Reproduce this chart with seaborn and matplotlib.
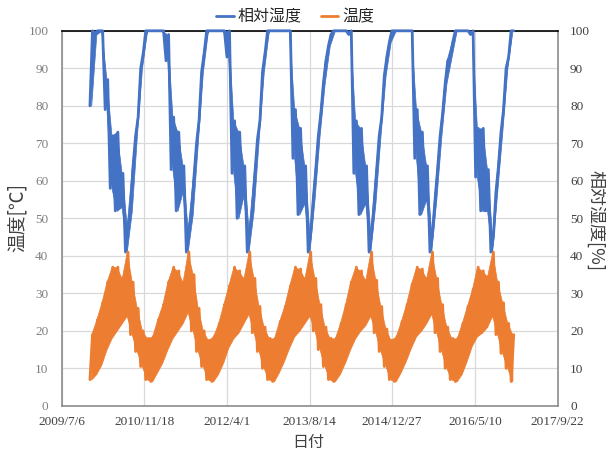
import numpy as np
import pandas as pd
import seaborn as sns
import matplotlib.pyplot as plt
from matplotlib.ticker import FuncFormatter, MultipleLocator
from matplotlib.lines import Line2D
import matplotlib.dates as mdates

# monthly envelope (min / max of the daily trace), Jan..Dec, 2010-2016
rh_lo = [80, 99, 100, 79, 58, 52, 53, 41, 52, 72, 90, 100,
         100, 100, 100, 92, 63, 52, 57, 41, 51, 70, 89, 100,
         100, 100, 100, 93, 62, 50, 56, 41, 52, 71, 89, 100,
         100, 100, 100, 100, 66, 51, 54, 41, 55, 72, 86, 96,
         100, 100, 100, 99, 62, 51, 54, 41, 54, 72, 88, 97,
         100, 100, 100, 100, 66, 51, 55, 41, 55, 72, 86, 93,
         100, 100, 100, 99, 61, 52, 52, 41, 57, 73, 90, 100]
rh_hi = [100, 100, 100, 87, 72, 73, 62, 48, 64, 77, 94, 100,
         100, 100, 100, 99, 77, 73, 64, 47, 61, 76, 94, 100,
         100, 100, 100, 100, 76, 73, 64, 47, 62, 76, 94, 100,
         100, 100, 100, 100, 79, 74, 64, 46, 63, 78, 92, 99,
         100, 100, 100, 100, 76, 74, 64, 46, 63, 77, 93, 100,
         100, 100, 100, 100, 79, 73, 64, 46, 63, 78, 92, 97,
         100, 100, 100, 100, 74, 74, 63, 45, 64, 79, 93, 100]
temp_lo = [7, 8.5, 11, 15, 18, 20, 22, 24, 19, 14.5, 10.5, 7,
           6.5, 9, 11.5, 15, 18, 20, 22, 25, 20, 14.5, 10.5, 7,
           6.5, 8.5, 11.5, 15.5, 18, 19.5, 22, 24.5, 19.5, 14.5, 10, 7,
           6.5, 9, 12, 15.5, 18.5, 20, 22, 24, 20, 15, 10.5, 7,
           6.5, 8.5, 11.5, 15, 18, 20, 21.5, 24, 19.5, 14.5, 10.5, 7,
           6.5, 9, 12, 15.5, 18.5, 20, 22, 24.5, 19.5, 14.5, 10, 7,
           6.5, 8.5, 12, 16, 18.5, 19.5, 21, 24, 19, 14, 10, 6.5]
temp_hi = [19, 23, 27.5, 33, 37, 37, 34, 41, 33, 26, 20, 18,
           18.5, 23, 27, 33, 37, 36, 33, 41, 35, 26, 20, 17.5,
           18.5, 22, 27, 32, 37, 36, 34, 41, 34, 26.5, 21, 18,
           18, 22.5, 26.5, 32, 37, 36.5, 34, 41, 34, 27, 21, 18,
           18, 22, 27, 33, 37, 36, 33.5, 41, 33.5, 26.5, 20.5, 17.5,
           18.5, 22.5, 27, 32.5, 37, 36.5, 34, 41, 34, 27, 21, 18,
           18, 22, 26.5, 31, 37, 36, 34.5, 41, 33, 27.5, 22, 19]

series_names = ["相対湿度", "温度"]
x_ticks = mdates.date2num(pd.date_range("2009-07-06", periods=7, freq="500D").to_pydatetime())

blue = "#4472C4"
orange = "#ED7D31"
cjk = "Noto Sans CJK JP"

sns.set_theme(style="white")
plt.rcParams["font.family"] = ["Liberation Serif", cjk]

# each month: one point at its low, one at its high -> jagged trace
pts = mdates.date2num(pd.date_range("2009-12-25", "2016-12-31",
                                    periods=2 * len(temp_lo)).to_pydatetime())
mid = (pts[0::2] + pts[1::2]) / 2


def zigzag(lo, hi):
    return np.column_stack([lo, hi]).ravel()


df_rh = pd.DataFrame({"date": pts, "value": zigzag(rh_lo, rh_hi)})
df_t = pd.DataFrame({"date": pts, "value": zigzag(temp_lo, temp_hi)})

fig, ax = plt.subplots(figsize=(6.06, 4.53), dpi=100)
fig.subplots_adjust(left=0.1015, right=0.92, bottom=0.104, top=0.932)

ax2 = ax.twinx()
ax2.set_ylim(0, 100)
ax2.yaxis.set_major_locator(MultipleLocator(10))
ax2.tick_params(axis="y", length=0, pad=9, labelsize=9.5, labelcolor="#404040")
ax2.grid(False)
for side in ax2.spines:
    ax2.spines[side].set_visible(False)

# data goes on the twin (top) axes so the 100% plateau covers the frame line
ax2.fill_between(mid, rh_lo, rh_hi, color=blue, lw=0.5, zorder=3.0)
sns.lineplot(data=df_rh, x="date", y="value", color=blue, lw=2.0, ax=ax2, zorder=3.1)
ax2.fill_between(mid, temp_lo, temp_hi, color=orange, lw=0.5, zorder=3.2)
sns.lineplot(data=df_t, x="date", y="value", color=orange, lw=2.0, ax=ax2, zorder=3.3)
for ln in ax2.lines:
    ln.set_clip_on(False)
ax2.set_ylabel("")
ax2.set_xlabel("")

ax.set_xlim(x_ticks[0], x_ticks[-1])
ax2.set_xlim(x_ticks[0], x_ticks[-1])
ax.set_ylim(0, 100)
ax.set_xticks(x_ticks)
ax.xaxis.set_major_formatter(FuncFormatter(
    lambda v, p: (lambda d: f"{d.year}/{d.month}/{d.day}")(mdates.num2date(v))))
ax.yaxis.set_major_locator(MultipleLocator(10))
ax.set_axisbelow(True)
ax.grid(True, color="#d9d9d9", lw=0.9)
ax.tick_params(axis="y", length=0, pad=9.5, labelsize=9.5, labelcolor="#7f7f7f")
ax.tick_params(axis="x", length=0, pad=7, labelsize=9.5, labelcolor="#404040")

for side in ("left", "right", "bottom"):
    ax.spines[side].set_color("#8c8c8c")
    ax.spines[side].set_linewidth(1.2)
ax.spines["top"].set_color("black")
ax.spines["top"].set_linewidth(1.2)

fig.text(17 / 606, 1 - 218 / 453, "温度[℃]", rotation=90, ha="center", va="center",
         family=cjk, fontsize=13.5, color="#404040")
fig.text(596 / 606, 1 - 220 / 453, "相対湿度[%]", rotation=270, ha="center", va="center",
         family=cjk, fontsize=13, color="#404040")
fig.text(308 / 606, 1 - 442 / 453, "日付", ha="center", va="center",
         family=cjk, fontsize=11.5, color="#404040")

handles = [Line2D([], [], color=blue, lw=2), Line2D([], [], color=orange, lw=2)]
fig.legend(handles, series_names, loc="center", bbox_to_anchor=(0.487, 1 - 17 / 453),
           ncol=2, frameon=False, prop={"family": cjk, "size": 11.5},
           handlelength=1.1, handletextpad=0.25, columnspacing=1.2)

fig.savefig("out.png", dpi=100)
